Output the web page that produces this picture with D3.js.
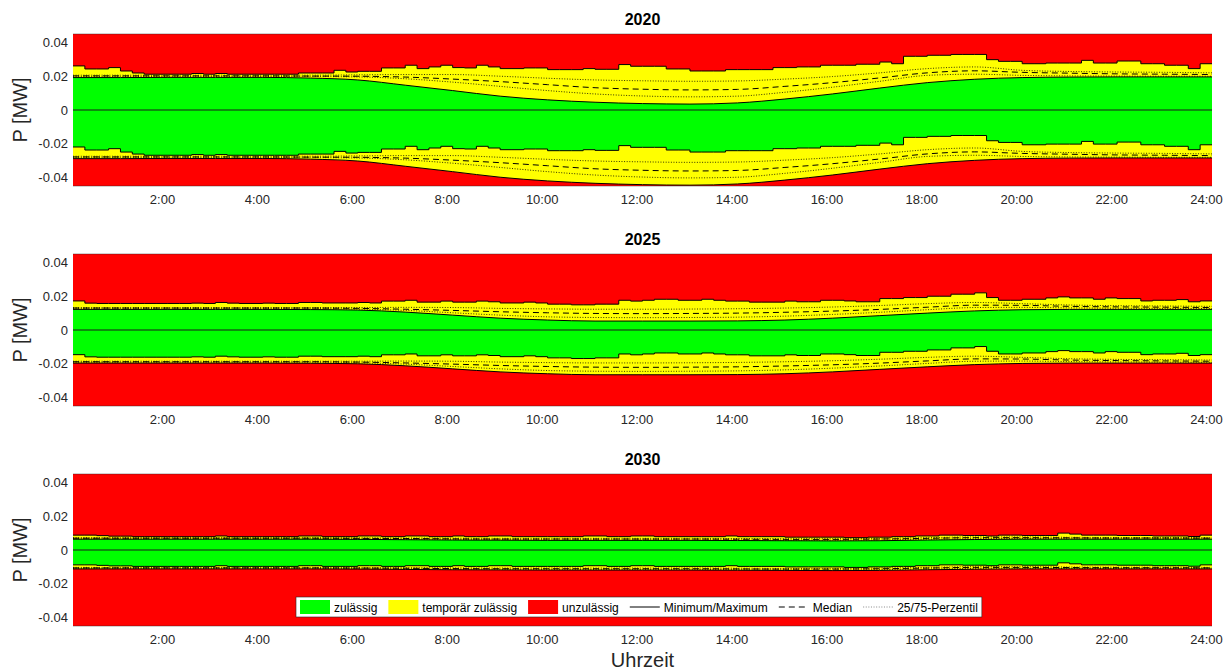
<!DOCTYPE html>
<html>
<head>
<meta charset="utf-8">
<script src="https://cdn.jsdelivr.net/npm/d3@7"></script>
<style>
  body { margin: 0; background: #fff; }
  svg text { font-family: "Liberation Sans", Arial, Helvetica, sans-serif; }
</style>
</head>
<body>
<svg id="chart" width="1230" height="671"></svg>
<script>
// ---- Axis labels and ticks -------------------------------------------
const years = ["2020", "2025", "2030"];
const xTickHours = [2, 4, 6, 8, 10, 12, 14, 16, 18, 20, 22, 24];
const yTickValues = [-0.04, -0.02, 0, 0.02, 0.04];
const legendLabels = ["zulässig", "temporär zulässig", "unzulässig", "Minimum/Maximum", "Median", "25/75-Perzentil"];

// ---- Data (kW). Max series: 96 quarter-hour steps; others: hourly 0:00..24:00 ----
// 2020
const upMax2020 = [26.1,24.3,24.3,25.1,23.1,21.9,21.2,21.2,21.2,21.2,21.6,21.2,21.6,21.2,21.2,21.2,21.2,21.2,21.2,21.9,21.9,21.9,23.5,22.5,
  22.9,22.9,24.9,24.9,26.5,24.5,25.5,26.5,25.1,24.9,26.5,25.5,24.5,24.5,24.9,24.9,23.9,23.9,23.9,24.5,24.1,24.1,26.9,25.9,
  25.9,25.9,24.3,24.3,23.1,23.1,23.1,23.9,23.9,23.9,23.9,25.1,25.1,25.5,25.5,26.5,26.5,26.5,27.1,27.1,28.4,27.4,31.8,31.8,
  32.4,32.4,32.9,32.9,32.9,29.8,28.8,28.8,27.4,27.4,27.8,27.8,27.8,29.4,27.8,27.8,29.0,29.0,27.4,27.4,26.5,26.5,24.5,27.4];
const loMax2020 = [-21.9,-23.7,-23.7,-22.9,-24.9,-26.1,-26.8,-26.8,-26.8,-26.8,-26.4,-26.8,-26.4,-26.8,-26.8,-26.8,-26.8,-26.8,-26.8,-26.1,-26.1,-26.1,-24.5,-25.5,
  -25.1,-25.1,-23.1,-23.1,-21.5,-23.5,-22.5,-21.5,-22.9,-23.1,-21.5,-22.5,-23.5,-23.5,-23.1,-23.1,-24.1,-24.1,-24.1,-23.5,-23.9,-23.9,-21.1,-22.1,
  -22.1,-22.1,-23.7,-23.7,-24.9,-24.9,-24.9,-24.1,-24.1,-24.1,-24.1,-22.9,-22.9,-22.5,-22.5,-21.5,-21.5,-21.5,-20.9,-20.9,-19.6,-20.6,-16.2,-16.2,
  -15.6,-15.6,-15.1,-15.1,-15.1,-18.2,-19.2,-19.2,-20.6,-20.6,-20.2,-20.2,-20.2,-18.6,-20.2,-20.2,-19.0,-19.0,-20.6,-20.6,-21.5,-21.5,-23.5,-20.6];
const upMin2020 = [19.2,19.2,19.3,19.3,19.3,18.9,17.8,14.7,11.5,8.2,6.0,4.6,3.8,3.5,4.2,6.5,9.5,13.0,16.2,18.2,19.2,19.5,19.6,19.6,19.6];
const loMin2020 = [-28.8,-28.8,-28.7,-28.7,-28.7,-29.1,-30.2,-33.3,-36.5,-39.8,-42.0,-43.4,-44.2,-44.5,-43.8,-41.5,-38.5,-35.0,-31.8,-29.8,-28.8,-28.5,-28.4,-28.4,-28.4];
const upMed2020 = [20.2,20.2,20.2,20.2,20.2,20.1,20.0,19.5,18.3,16.8,15.0,13.2,12.3,11.9,12.2,14.0,16.2,19.0,22.0,23.2,22.3,21.8,21.4,21.2,21.0];
const loMed2020 = [-27.8,-27.8,-27.8,-27.8,-27.8,-27.9,-28.0,-28.5,-29.7,-31.2,-33.0,-34.8,-35.7,-36.1,-35.8,-34.0,-31.8,-29.0,-26.0,-24.8,-25.7,-26.2,-26.6,-26.8,-27.0];
const upP75_2020 = [20.6,20.6,20.6,20.6,20.6,20.6,20.8,21.0,21.0,20.0,18.8,17.8,17.3,17.0,17.2,18.3,19.8,22.0,24.5,25.5,23.5,22.8,22.5,22.3,22.0];
const loP75_2020 = [-27.4,-27.4,-27.4,-27.4,-27.4,-27.4,-27.2,-27.0,-27.0,-28.0,-29.2,-30.2,-30.7,-31.0,-30.8,-29.7,-28.2,-26.0,-23.5,-22.5,-24.5,-25.2,-25.5,-25.7,-26.0];
const upP25_2020 = [19.8,19.8,19.8,19.8,19.8,19.8,19.6,18.5,16.5,14.0,11.5,9.5,8.3,7.8,8.2,10.5,13.5,17.0,20.5,21.2,20.5,20.2,20.1,20.0,20.0];
const loP25_2020 = [-28.2,-28.2,-28.2,-28.2,-28.2,-28.2,-28.4,-29.5,-31.5,-34.0,-36.5,-38.5,-39.7,-40.2,-39.8,-37.5,-34.5,-31.0,-27.5,-26.8,-27.5,-27.8,-27.9,-28.0,-28.0];

// 2025
const upMax2025 = [17.2,15.9,15.7,15.7,15.7,15.7,15.7,15.7,15.7,15.7,15.9,15.7,16.3,15.9,15.7,15.7,15.9,15.7,15.7,16.3,16.3,16.0,16.0,16.0,
  16.3,16.0,17.1,17.1,17.6,16.5,16.5,17.1,16.5,16.5,17.1,16.7,16.0,16.0,16.5,16.0,15.3,15.3,14.9,14.9,15.3,15.3,17.6,17.1,
  17.6,18.2,18.2,17.6,17.6,18.2,17.6,17.1,17.1,16.5,16.5,16.5,17.1,16.7,16.7,17.6,17.6,17.2,16.7,16.7,18.6,18.6,19.2,19.2,
  20.0,20.0,21.2,21.2,22.0,19.2,17.6,17.6,18.2,18.2,19.0,19.6,19.0,19.0,18.2,19.0,18.6,18.6,17.2,17.6,17.6,18.0,16.7,17.2];
const loMax2025 = [-14.6,-15.9,-16.1,-16.1,-16.1,-16.1,-16.1,-16.1,-16.1,-16.1,-15.9,-16.1,-15.5,-15.9,-16.1,-16.1,-15.9,-16.1,-16.1,-15.5,-15.5,-15.8,-15.8,-15.8,
  -15.5,-15.8,-14.7,-14.7,-14.2,-15.3,-15.3,-14.7,-15.3,-15.3,-14.7,-15.1,-15.8,-15.8,-15.3,-15.8,-16.5,-16.5,-16.9,-16.9,-16.5,-16.5,-14.2,-14.7,
  -14.2,-13.6,-13.6,-14.2,-14.2,-13.6,-14.2,-14.7,-14.7,-15.3,-15.3,-15.3,-14.7,-15.1,-15.1,-14.2,-14.2,-14.6,-15.1,-15.1,-13.2,-13.2,-12.6,-12.6,
  -11.8,-11.8,-10.6,-10.6,-9.8,-12.6,-14.2,-14.2,-13.6,-13.6,-12.8,-12.2,-12.8,-12.8,-13.6,-12.8,-13.2,-13.2,-14.6,-14.2,-14.2,-13.8,-15.1,-14.6];
const upMin2025 = [12.2,12.2,12.2,12.2,12.2,12.1,11.8,10.6,8.8,7.0,5.9,5.3,5.3,5.3,5.4,5.9,7.0,8.5,10.0,11.3,12.0,12.2,12.2,12.2,12.2];
const loMin2025 = [-19.6,-19.6,-19.6,-19.6,-19.6,-19.7,-20.0,-21.2,-23.0,-24.8,-25.9,-26.5,-26.5,-26.5,-26.4,-25.9,-24.8,-23.3,-21.8,-20.5,-19.8,-19.6,-19.6,-19.6,-19.6];
const upMed2025 = [13.0,13.0,13.0,13.0,13.0,13.0,12.8,12.3,11.6,10.8,10.2,9.8,9.7,9.8,10.0,10.5,11.2,12.2,13.5,14.7,14.6,14.0,13.7,13.5,13.3];
const loMed2025 = [-18.8,-18.8,-18.8,-18.8,-18.8,-18.8,-19.0,-19.5,-20.2,-21.0,-21.6,-22.0,-22.1,-22.0,-21.8,-21.3,-20.6,-19.6,-18.3,-17.1,-17.2,-17.8,-18.1,-18.3,-18.5];
const upP75_2025 = [13.3,13.3,13.3,13.3,13.3,13.3,13.3,13.4,13.3,12.8,12.5,12.3,12.3,12.4,12.6,13.0,13.6,14.5,15.6,16.3,15.6,14.8,14.4,14.2,14.0];
const loP75_2025 = [-18.5,-18.5,-18.5,-18.5,-18.5,-18.5,-18.5,-18.4,-18.5,-19.0,-19.3,-19.5,-19.5,-19.4,-19.2,-18.8,-18.2,-17.3,-16.2,-15.5,-16.2,-17.0,-17.4,-17.6,-17.8];
const upP25_2025 = [12.7,12.7,12.7,12.7,12.7,12.7,12.4,11.6,10.2,8.8,7.8,7.4,7.3,7.4,7.6,8.2,9.2,10.5,12.0,13.3,13.4,13.1,12.9,12.8,12.7];
const loP25_2025 = [-19.1,-19.1,-19.1,-19.1,-19.1,-19.1,-19.4,-20.2,-21.6,-23.0,-24.0,-24.4,-24.5,-24.4,-24.2,-23.6,-22.6,-21.3,-19.8,-18.5,-18.4,-18.7,-18.9,-19.0,-19.1];

// 2030
const upMax2030 = [8.8,8.8,8.5,8.2,8.2,7.9,7.9,7.9,7.9,7.9,7.9,7.9,8.3,7.9,7.9,7.9,7.9,7.9,7.9,8.3,8.3,7.9,7.9,7.9,
  8.3,8.3,7.9,7.9,8.3,8.3,7.9,7.9,8.3,7.9,7.9,8.3,8.3,7.9,7.9,7.9,7.9,7.9,7.9,8.3,8.3,7.9,7.9,8.3,
  8.3,7.9,7.9,7.9,7.9,7.9,7.9,8.3,7.9,7.9,7.9,7.9,7.6,7.6,7.6,7.6,7.6,7.3,7.3,7.6,7.6,7.9,7.9,8.3,
  8.3,8.8,8.8,8.6,8.6,8.3,8.8,8.8,8.6,8.6,8.6,10.0,9.4,8.8,8.8,8.8,8.6,8.6,8.6,8.3,8.3,8.3,8.0,8.8];
const loMax2030 = [-8.8,-8.8,-9.1,-9.4,-9.4,-9.7,-9.7,-9.7,-9.7,-9.7,-9.7,-9.7,-9.3,-9.7,-9.7,-9.7,-9.7,-9.7,-9.7,-9.3,-9.3,-9.7,-9.7,-9.7,
  -9.3,-9.3,-9.7,-9.7,-9.3,-9.3,-9.7,-9.7,-9.3,-9.7,-9.7,-9.3,-9.3,-9.7,-9.7,-9.7,-9.7,-9.7,-9.7,-9.3,-9.3,-9.7,-9.7,-9.3,
  -9.3,-9.7,-9.7,-9.7,-9.7,-9.7,-9.7,-9.3,-9.7,-9.7,-9.7,-9.7,-10.0,-10.0,-10.0,-10.0,-10.0,-10.3,-10.3,-10.0,-10.0,-9.7,-9.7,-9.3,
  -9.3,-8.8,-8.8,-9.0,-9.0,-9.3,-8.8,-8.8,-9.0,-9.0,-9.0,-7.6,-8.2,-8.8,-8.8,-8.8,-9.0,-9.0,-9.0,-9.3,-9.3,-9.3,-9.6,-8.8];
const upMin2030 = [6.4,6.4,6.4,6.4,6.4,6.4,6.3,6.1,5.9,5.8,5.7,5.7,5.7,5.7,5.6,5.5,5.4,5.5,5.9,6.2,6.4,6.4,6.4,6.4,6.4];
const loMin2030 = [-11.2,-11.2,-11.2,-11.2,-11.2,-11.2,-11.3,-11.5,-11.7,-11.8,-11.9,-11.9,-11.9,-11.9,-12.0,-12.1,-12.2,-12.1,-11.7,-11.4,-11.2,-11.2,-11.2,-11.2,-11.2];
const upMed2030 = [7.0,7.0,7.0,7.0,7.0,7.0,6.9,6.8,6.6,6.5,6.5,6.5,6.5,6.5,6.4,6.3,6.3,6.5,6.9,7.3,7.3,7.2,7.1,7.1,7.0];
const loMed2030 = [-10.6,-10.6,-10.6,-10.6,-10.6,-10.6,-10.7,-10.8,-11.0,-11.1,-11.1,-11.1,-11.1,-11.1,-11.2,-11.3,-11.3,-11.1,-10.7,-10.3,-10.3,-10.4,-10.5,-10.5,-10.6];
const upP75_2030 = [7.3,7.3,7.3,7.3,7.3,7.3,7.2,7.1,7.0,6.9,6.9,6.9,6.9,6.9,6.8,6.7,6.7,6.9,7.3,7.7,7.7,7.5,7.4,7.4,7.3];
const loP75_2030 = [-10.3,-10.3,-10.3,-10.3,-10.3,-10.3,-10.4,-10.5,-10.6,-10.7,-10.7,-10.7,-10.7,-10.7,-10.8,-10.9,-10.9,-10.7,-10.3,-9.9,-9.9,-10.1,-10.2,-10.2,-10.3];
const upP25_2030 = [6.7,6.7,6.7,6.7,6.7,6.7,6.6,6.5,6.3,6.2,6.1,6.1,6.1,6.1,6.0,5.9,5.8,6.0,6.4,6.7,6.8,6.7,6.7,6.7,6.7];
const loP25_2030 = [-10.9,-10.9,-10.9,-10.9,-10.9,-10.9,-11.0,-11.1,-11.3,-11.4,-11.5,-11.5,-11.5,-11.5,-11.6,-11.7,-11.8,-11.6,-11.2,-10.9,-10.8,-10.9,-10.9,-10.9,-10.9];

const panels = [
  { title: years[0], upMax: upMax2020, loMax: loMax2020, upMin: upMin2020, loMin: loMin2020,
    med: [upMed2020, loMed2020], pct: [upP75_2020, upP25_2020, loP75_2020, loP25_2020] },
  { title: years[1], upMax: upMax2025, loMax: loMax2025, upMin: upMin2025, loMin: loMin2025,
    med: [upMed2025, loMed2025], pct: [upP75_2025, upP25_2025, loP75_2025, loP25_2025] },
  { title: years[2], upMax: upMax2030, loMax: loMax2030, upMin: upMin2030, loMin: loMin2030,
    med: [upMed2030, loMed2030], pct: [upP75_2030, upP25_2030, loP75_2030, loP25_2030] }
];

// ---- Layout ------------------------------------------------------------
const COL = { green: "#00ff00", yellow: "#ffff00", red: "#ff0000", text: "#262626" };
const plotLeft = 73, plotRight = 1212, panelH = 152;
const panelTops = [34, 254, 474];
const KW = 0.001; // kW -> MW

const svg = d3.select("#chart");
const x = d3.scaleLinear().domain([0.125, 24.125]).range([plotLeft, plotRight]);

// quarter-hour steps: step j spans [j/4 + 0.125, (j+1)/4 + 0.125]
const stepRows = vals => {
  const rows = vals.map((v, j) => ({ t: j / 4 + 0.125, v }));
  rows.push({ t: vals.length / 4 + 0.125, v: vals[vals.length - 1] });
  return rows;
};
const hourRows = vals => vals.map((v, h) => ({ t: h + 0.125, v }));

panels.forEach((p, k) => {
  const top = panelTops[k];
  const y = d3.scaleLinear().domain([-0.045, 0.045]).range([top + panelH, top]);
  const clipId = "plotclip" + k;
  svg.append("clipPath").attr("id", clipId)
    .append("rect").attr("x", plotLeft).attr("y", top)
    .attr("width", plotRight - plotLeft).attr("height", panelH);

  const g = svg.append("g");
  const plot = g.append("g").attr("clip-path", `url(#${clipId})`);

  // not permitted background
  plot.append("rect").attr("x", plotLeft).attr("y", top)
    .attr("width", plotRight - plotLeft).attr("height", panelH).attr("fill", COL.red);

  const areaStepUp = d3.area().curve(d3.curveStepAfter)
    .x(d => x(d.t)).y0(y(0)).y1(d => y(d.v * KW));
  const areaSmoothUp = d3.area().curve(d3.curveMonotoneX)
    .x(d => x(d.t)).y0(y(0)).y1(d => y(d.v * KW));
  const lineStep = d3.line().curve(d3.curveStepAfter).x(d => x(d.t)).y(d => y(d.v * KW));
  const lineSmooth = d3.line().curve(d3.curveMonotoneX).x(d => x(d.t)).y(d => y(d.v * KW));

  // temporarily permitted band
  plot.append("path").datum(stepRows(p.upMax)).attr("d", areaStepUp).attr("fill", COL.yellow);
  plot.append("path").datum(hourRows(p.loMin)).attr("d", areaSmoothUp).attr("fill", COL.yellow);
  // permitted band
  plot.append("path").datum(hourRows(p.upMin)).attr("d", areaSmoothUp).attr("fill", COL.green);
  plot.append("path").datum(stepRows(p.loMax)).attr("d", areaStepUp).attr("fill", COL.green);

  // zero line
  plot.append("line").attr("x1", plotLeft).attr("x2", plotRight)
    .attr("y1", y(0)).attr("y2", y(0)).attr("stroke", "#1a1a1a").attr("stroke-width", 1);

  // percentiles (dotted)
  p.pct.forEach(s => plot.append("path").datum(hourRows(s)).attr("d", lineSmooth)
    .attr("fill", "none").attr("stroke", "#000").attr("stroke-width", 0.8)
    .attr("stroke-dasharray", "1,1.6"));
  // medians (dashed)
  p.med.forEach(s => plot.append("path").datum(hourRows(s)).attr("d", lineSmooth)
    .attr("fill", "none").attr("stroke", "#000").attr("stroke-width", 1)
    .attr("stroke-dasharray", "6,4"));
  // minimum / maximum (solid)
  [p.upMax, p.loMax].forEach(s => plot.append("path").datum(stepRows(s)).attr("d", lineStep)
    .attr("fill", "none").attr("stroke", "#000").attr("stroke-width", 1));
  [p.upMin, p.loMin].forEach(s => plot.append("path").datum(hourRows(s)).attr("d", lineSmooth)
    .attr("fill", "none").attr("stroke", "#000").attr("stroke-width", 1));

  // frame edges
  [top, top + panelH].forEach(yy => g.append("line")
    .attr("x1", plotLeft).attr("x2", plotRight).attr("y1", yy).attr("y2", yy)
    .attr("stroke", "#262626").attr("stroke-width", 0.6).attr("opacity", 0.7));

  // axes
  const xAxis = d3.axisBottom(x).tickValues(xTickHours).tickSize(0).tickPadding(9)
    .tickFormat(h => h + ":00");
  const gx = g.append("g").attr("transform", `translate(0,${top + panelH})`).call(xAxis);
  gx.select(".domain").remove();
  gx.selectAll("text").attr("font-size", 13).attr("fill", COL.text)
    .style("font-family", '"Liberation Sans", Arial, sans-serif');

  const yAxis = d3.axisLeft(y).tickValues(yTickValues).tickSize(0).tickPadding(5)
    .tickFormat(v => v === 0 ? "0" : v.toFixed(2));
  const gy = g.append("g").attr("transform", `translate(${plotLeft},0)`).call(yAxis);
  gy.select(".domain").remove();
  gy.selectAll("text").attr("font-size", 13).attr("fill", COL.text)
    .style("font-family", '"Liberation Sans", Arial, sans-serif');

  // y label
  g.append("text").attr("transform", `translate(27,${top + panelH / 2}) rotate(-90)`)
    .attr("text-anchor", "middle").attr("font-size", 20).attr("fill", COL.text)
    .text("P [MW]");

  // title
  g.append("text").attr("x", (plotLeft + plotRight) / 2).attr("y", top - 9)
    .attr("text-anchor", "middle").attr("font-size", 16).attr("font-weight", "bold")
    .attr("fill", "#000").text(p.title);
});

// x label
svg.append("text").attr("x", (plotLeft + plotRight) / 2).attr("y", 667)
  .attr("text-anchor", "middle").attr("font-size", 20).attr("fill", COL.text).text("Uhrzeit");

// ---- Legend --------------------------------------------------------------
const legendItems = [
  { kind: "patch", color: COL.green, label: legendLabels[0] },
  { kind: "patch", color: COL.yellow, label: legendLabels[1] },
  { kind: "patch", color: COL.red, label: legendLabels[2] },
  { kind: "line", dash: null, label: legendLabels[3] },
  { kind: "line", dash: "6,4", label: legendLabels[4] },
  { kind: "line", dash: "1,1.6", label: legendLabels[5] }
];
const lg = svg.append("g");
const lgBox = lg.append("rect").attr("fill", "#fff").attr("stroke", "#262626").attr("stroke-width", 0.6);
const lgY = 607;
let cx = 300;
legendItems.forEach(it => {
  if (it.kind === "patch") {
    lg.append("rect").attr("x", cx).attr("y", lgY - 7).attr("width", 30).attr("height", 14).attr("fill", it.color);
  } else {
    lg.append("line").attr("x1", cx).attr("x2", cx + 30).attr("y1", lgY).attr("y2", lgY)
      .attr("stroke", it.dash === "1,1.6" ? "#555" : "#000").attr("stroke-width", it.dash === "1,1.6" ? 0.7 : 1)
      .attr("stroke-dasharray", it.dash);
  }
  const t = lg.append("text").attr("x", cx + 34).attr("y", lgY + 4.5)
    .attr("font-size", 12).attr("fill", "#000").text(it.label);
  cx += 34 + t.node().getComputedTextLength() + 11;
});
lgBox.attr("x", 296).attr("y", 597).attr("width", cx - 11 + 4 - 296).attr("height", 20);
</script>
</body>
</html>
